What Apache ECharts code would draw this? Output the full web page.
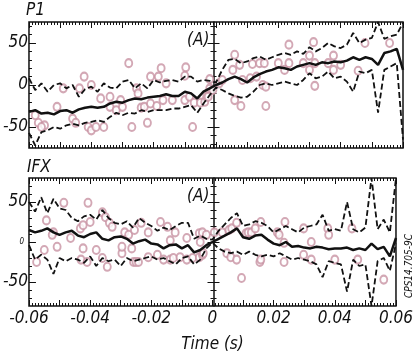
<!DOCTYPE html>
<html>
<head>
<meta charset="utf-8">
<script src="https://cdn.jsdelivr.net/npm/echarts@6/dist/echarts.min.js"></script>
<style>
html, body { margin: 0; padding: 0; background: #fff; }
#e_chart_1 { width: 416px; height: 354px; }
</style>
</head>
<body>
<div id="e_chart_1"></div>
<script>
// time base (s)
var time = [-0.060, -0.058, -0.056, -0.054, -0.052, -0.050, -0.048, -0.046, -0.044, -0.042,
	-0.040, -0.038, -0.036, -0.034, -0.032, -0.030, -0.028, -0.026, -0.024, -0.022,
	-0.020, -0.018, -0.016, -0.014, -0.012, -0.010, -0.008, -0.006, -0.004, -0.002,
	0.000, 0.002, 0.004, 0.006, 0.008, 0.010, 0.012, 0.014, 0.016, 0.018,
	0.020, 0.022, 0.024, 0.026, 0.028, 0.030, 0.032, 0.034, 0.036, 0.038,
	0.040, 0.042, 0.044, 0.046, 0.048, 0.050, 0.052, 0.054, 0.056, 0.058, 0.060];

// P1 panel
var p1Mean = [-32, -30, -34, -33, -35, -31, -30, -33, -29, -27,
	-26, -27, -26, -22, -20, -21, -18, -16, -17, -15,
	-14, -13, -11, -13, -13, -8, -10, -16, -8, -4,
	0, 3, 7, 10, 7, 3, 9, 13, 16, 18,
	21, 20, 18, 22, 24, 26, 24, 27, 26, 28,
	27, 29, 33, 30, 33, 31, 24, 38, 40, 43, 18];
var p1Upper = [8, -6, 2, -8, 0, 2, -4, 0, -14, -5,
	-2, -8, 2, -3, -4, 4, 6, -4, 2, -4,
	6, 3, 5, 6, 4, 10, 10, 4, 6, 5,
	3, 18, 30, 31, 26, 28, 32, 34, 30, 33,
	36, 38, 36, 40, 37, 45, 40, 44, 50, 46,
	44, 48, 62, 50, 54, 56, 75, 55, 58, 60, 74];
var p1Lower = [-57, -72, -56, -54, -50, -52, -48, -46, -48, -45,
	-44, -42, -44, -38, -33, -36, -33, -34, -30, -32,
	-30, -30, -30, -28, -28, -26, -24, -33, -22, -12,
	-3, -6, -10, -13, -15, -14, -8, 0, 2, 0,
	2, 4, 2, 0, 6, 14, 8, 10, 16, 8,
	10, 4, -8, 16, 14, 18, -33, 18, 22, 26, -65];
var p1Points = [
	[-0.028, 26], [-0.0176, 20], [-0.0097, 21], [-0.0423, 10], [-0.021, 10], [-0.0185, 10],
	[-0.016, 2], [-0.010, 11], [-0.002, 7], [-0.049, -4], [-0.0438, -4], [-0.040, 0],
	[-0.037, -16], [-0.034, -14], [-0.0306, -18], [-0.0255, -4], [-0.025, -10], [-0.027, -50],
	[-0.022, -45], [-0.0075, -50], [-0.051, -26], [-0.057, -45], [-0.055, -48], [-0.056, -50],
	[-0.046, -40], [-0.045, -45], [-0.041, -50], [-0.040, -54], [-0.0385, -50], [-0.036, -50],
	[-0.034, -26], [-0.032, -30], [-0.030, -26], [-0.024, -27], [-0.023, -26], [-0.021, -22],
	[-0.019, -25], [-0.017, -18], [-0.014, -18], [-0.010, -18], [-0.0085, -14], [-0.007, -21],
	[-0.005, -21], [-0.0036, -20], [-0.003, -14], [-0.058, -36],
	[0.0234, 48], [0.0313, 51], [0.0478, 50], [0.0557, 50], [0.006, 36], [0.0076, 24],
	[0.0117, 25], [0.014, 26], [0.0155, 26], [0.020, 26], [0.0234, 26], [0.028, 26],
	[0.030, 35], [0.0317, 26], [0.0377, 35], [0.036, 26], [0.040, 24], [0.0054, 18],
	[0.0085, 6], [0.011, 8], [0.013, 10], [0.022, 18], [0.030, 18], [0.0377, 18],
	[0.0456, 17], [0.015, 0], [0.016, -2], [0.0317, -1], [0.006, -18], [0.008, -25],
	[0.016, -25], [-0.002, -4], [-0.0025, -14], [-0.001, -6], [0.001, 2], [0.002, 6]
];

// IFX panel
var ifxMean = [15, 12, 14, 17, 12, 9, 12, 14, 8, 6,
	10, 12, 4, 2, 6, 7, 4, -2, 1, 3,
	-2, -3, -8, -4, -3, -8, -4, -13, -10, -4,
	0, 4, 8, 12, 17, 6, 4, 8, 9, 3,
	-2, -4, 0, -6, -5, -7, -8, -6, -7, -9,
	-8, -8, -7, -10, -8, -10, -2, -9, -6, -18, 5];
var ifxUpper = [50, 38, 56, 36, 54, 42, 40, 30, 26, 32,
	34, 28, 40, 30, 24, 22, 26, 18, 30, 24,
	20, 14, 18, 15, 20, 24, 24, 4, 8, 4,
	3, 14, 22, 30, 36, 20, 22, 26, 24, 20,
	12, 16, 20, 16, 12, 18, 20, 22, 34, 14,
	16, 14, 50, 16, 12, 18, 80, 16, 28, 12, 80];
var ifxLower = [-4, -22, -16, -22, -40, -20, -24, -20, -22, -26,
	-18, -30, -20, -24, -22, -30, -20, -24, -22, -20,
	-18, -22, -20, -24, -28, -20, -18, -28, -22, -8,
	-1, -8, -12, -14, -12, -16, -12, -16, -18, -16,
	-18, -14, -18, -22, -20, -22, -24, -28, -44, -24,
	-26, -28, -62, -22, -30, -28, -80, -24, -20, -36, -2];
var ifxPoints = [
	[-0.0486, 49], [-0.0407, 49], [-0.0543, 27], [-0.052, 12], [-0.0524, 9], [-0.0464, 5],
	[-0.0432, 17], [-0.0423, 21], [-0.040, 25], [-0.036, 37], [-0.035, 31], [-0.0337, 24],
	[-0.0328, 19], [-0.0287, 12], [-0.0274, 9], [-0.0255, 15], [-0.0233, 24], [-0.021, 12],
	[-0.017, 25], [-0.0147, 19], [-0.0138, 2], [-0.0122, 12], [-0.0084, 5], [-0.0043, 11],
	[-0.0033, 12], [-0.0575, -25], [-0.055, -10], [-0.0508, -6], [-0.0423, -8], [-0.043, -22],
	[-0.041, -25], [-0.038, -10], [-0.036, -20], [-0.0344, -31], [-0.0296, -14], [-0.0264, -8],
	[-0.0258, -25], [-0.025, -25], [-0.0242, -25], [-0.021, -19], [-0.018, -16], [-0.016, -22],
	[-0.0138, -22], [-0.0128, -20], [-0.0106, -19], [-0.0084, -22], [-0.0065, -20], [-0.0043, -19],
	[-0.0033, -16], [-0.0296, -6],
	[0.0006, 12], [0.0032, 12], [0.0054, 15], [0.0063, 17], [0.0079, 24], [0.011, 11],
	[0.0117, 12], [0.0127, 12], [0.014, 17], [0.0158, 25], [0.0212, 12], [0.0218, 9],
	[0.0237, 25], [0.0234, -1], [0.0298, 17], [0.0323, 0], [0.0377, 17], [0.038, 9],
	[0.0456, 17], [0.0095, -45], [0.0047, -14], [0.006, -19], [0.0079, -22], [0.0155, -25],
	[0.0158, -22], [0.0234, -25], [0.0298, -16], [0.0323, -22], [0.040, -22], [0.0475, -22],
	[0.056, -47], [-0.004, 0], [-0.002, 9], [-0.003, -14]
];

// axis ticks
var yLabelValues = [-50, 0, 50];
var yMinorValues = [-70, -60, -50, -40, -30, -20, -10, 0, 10, 20, 30, 40, 50, 60, 70];

var FONT = "'Liberation Sans Narrow', 'DejaVu Sans Condensed', 'Liberation Sans', sans-serif";
var INK = '#111';
var PINK = '#c892a3';

function pairs(vals) {
	return time.map(function (t, i) { return [t, vals[i]]; });
}

function xAxisDef(gi, pos, showLabel) {
	return {
		type: 'value', gridIndex: gi, position: pos,
		min: -0.06, max: 0.06, interval: 0.01,
		axisLine: { show: false, onZero: false },
		axisTick: { show: true, inside: true, length: 6, lineStyle: { color: INK, width: 1 } },
		minorTick: { show: true, splitNumber: 10, length: 3, lineStyle: { color: INK, width: 1 } },
		splitLine: { show: false },
		name: showLabel ? 'Time (s)' : '',
		nameLocation: 'middle', nameGap: 30,
		nameTextStyle: { color: INK, fontSize: 17, fontStyle: 'italic', fontFamily: FONT },
		axisLabel: {
			show: showLabel, margin: 4, color: INK, fontSize: 17, fontStyle: 'italic', fontFamily: FONT,
			showMinLabel: true, showMaxLabel: true,
			formatter: function (v) {
				var k = Math.round(v * 1000);
				if (k % 20 !== 0) return '';
				if (k === 0) return '0';
				return (k / 1000).toFixed(2);
			}
		}
	};
}

function yLeft(gi, R, small0) {
	return {
		type: 'value', gridIndex: gi, position: 'left', min: -R, max: R,
		axisLine: { show: false, onZero: false },
		splitLine: { show: false },
		axisTick: { show: true, inside: true, length: 3, customValues: yMinorValues, lineStyle: { color: INK } },
		axisLabel: {
			show: true, customValues: yLabelValues, margin: 1, color: INK,
			fontSize: 17, fontStyle: 'italic', fontFamily: FONT,
			formatter: function (v) { return (small0 && v === 0) ? '{s|0}' : String(v); },
			rich: { s: { fontSize: 8, fontStyle: 'italic', fontFamily: FONT, color: INK, padding: [0, 4, 0, 0] } }
		}
	};
}

function yTicks(gi, R, vals, len, inside, showLine) {
	return {
		type: 'value', gridIndex: gi, position: 'left', min: -R, max: R,
		axisLine: { show: showLine, onZero: false, lineStyle: { color: INK, width: 1.5 } },
		splitLine: { show: false },
		axisTick: { show: true, inside: inside, length: len, customValues: vals, lineStyle: { color: INK } },
		axisLabel: { show: false }
	};
}

function lineSeries(xi, yi, vals, width, dashed) {
	return {
		type: 'line', xAxisIndex: xi, yAxisIndex: yi, data: pairs(vals),
		symbol: 'none', silent: true, z: 3,
		lineStyle: { color: INK, width: width, type: dashed ? [6, 3] : 'solid' }
	};
}

function scatterSeries(xi, yi, pts) {
	return {
		type: 'scatter', xAxisIndex: xi, yAxisIndex: yi, data: pts,
		symbol: 'emptyCircle', symbolSize: [7, 8], z: 2,
		itemStyle: { color: PINK, borderColor: PINK, borderWidth: 1 }
	};
}

var R1 = 75, R2 = 80;
var dom = document.getElementById('e_chart_1');
var myChart = echarts.init(dom);
var option = {
	animation: false,
	title: [
		{ text: 'P1', left: 26, top: 2, padding: 0, textStyle: { color: INK, fontSize: 17, fontStyle: 'italic', fontWeight: 'normal', fontFamily: FONT } },
		{ text: 'IFX', left: 27, top: 159, padding: 0, textStyle: { color: INK, fontSize: 17, fontStyle: 'italic', fontWeight: 'normal', fontFamily: FONT } }
	],
	grid: [
		{ left: 24, right: 13, top: 22, height: 126, show: true, borderColor: INK, borderWidth: 1.5, backgroundColor: 'transparent' },
		{ left: 24, right: 13, top: 178, height: 128, show: true, borderColor: INK, borderWidth: 1.5, backgroundColor: 'transparent' },
		{ left: 213.5, right: 13, top: 22, height: 126 },
		{ left: 213.5, right: 13, top: 178, height: 128 }
	],
	xAxis: [
		xAxisDef(0, 'bottom', false),
		xAxisDef(0, 'top', false),
		xAxisDef(1, 'bottom', true),
		xAxisDef(1, 'top', false),
		{ type: 'value', gridIndex: 2, min: 0, max: 1, show: false },
		{ type: 'value', gridIndex: 3, min: 0, max: 1, show: false }
	],
	yAxis: [
		yLeft(0, R1, false),
		yTicks(0, R1, yLabelValues, 7, true, false),
		yLeft(1, R2, true),
		yTicks(1, R2, yLabelValues, 7, true, false),
		yTicks(2, R1, yMinorValues, 3, true, true),
		yTicks(2, R1, yMinorValues, 3, false, false),
		yTicks(2, R1, yLabelValues, 6, true, false),
		yTicks(2, R1, yLabelValues, 6, false, false),
		yTicks(3, R2, yMinorValues, 3, true, true),
		yTicks(3, R2, yMinorValues, 3, false, false),
		yTicks(3, R2, yLabelValues, 6, true, false),
		yTicks(3, R2, yLabelValues, 6, false, false)
	],
	graphic: [
		{ type: 'text', left: 187, top: 32, style: { text: '(A)', fill: INK, font: 'italic 17px ' + FONT } },
		{ type: 'text', left: 187, top: 188, style: { text: '(A)', fill: INK, font: 'italic 17px ' + FONT } },
		{ type: 'text', x: 409, y: 266, rotation: Math.PI / 2,
			style: { text: 'CPS14.705-9C', fill: INK, font: 'italic 10px ' + FONT, align: 'center', verticalAlign: 'middle' } }
	],
	series: [
		scatterSeries(0, 0, p1Points),
		lineSeries(0, 0, p1Upper, 1.8, true),
		lineSeries(0, 0, p1Lower, 1.8, true),
		lineSeries(0, 0, p1Mean, 2.5, false),
		scatterSeries(2, 2, ifxPoints),
		lineSeries(2, 2, ifxUpper, 1.8, true),
		lineSeries(2, 2, ifxLower, 1.8, true),
		lineSeries(2, 2, ifxMean, 2.5, false)
	]
};
if (option && typeof option === 'object') {
	myChart.setOption(option, true);
}
</script>
</body>
</html>
